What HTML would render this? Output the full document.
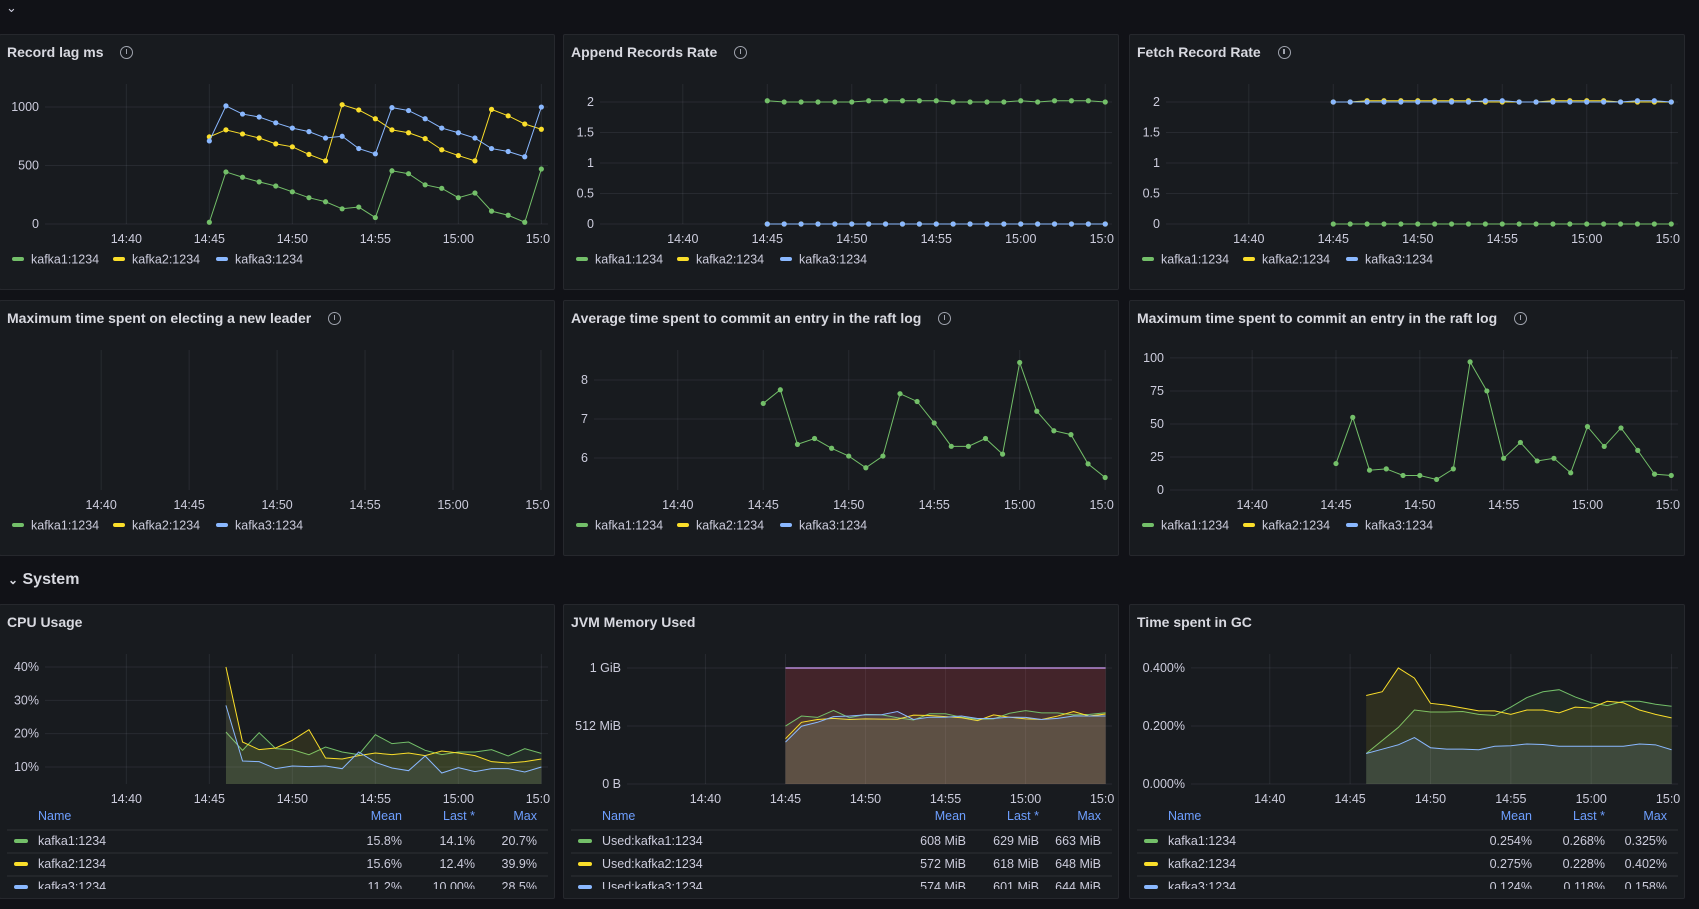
<!DOCTYPE html>
<html><head><meta charset="utf-8">
<style>
*{box-sizing:border-box;margin:0;padding:0}
body{width:1699px;height:909px;background:#111217;overflow:hidden;font-family:"Liberation Sans",sans-serif;color:#ccccdc;position:relative}
.panel{position:absolute;background:#181b1f;border:1px solid #26282d;border-radius:2px;overflow:hidden}
.title{position:absolute;left:7px;top:7px;height:20px;line-height:20px;font-size:14px;font-weight:bold;color:#d8d9e0;display:flex;align-items:center;white-space:nowrap}
.info{display:inline-block;width:13px;height:13px;border:1.3px solid #9fa3ad;border-radius:50%;margin-left:17px;position:relative}
.info::after{content:"";position:absolute;left:4.5px;top:2.5px;width:1.4px;height:5px;background:#9fa3ad}
.panel svg{position:absolute;left:0;top:0}
.rowhdr{position:absolute;left:8px;top:571px;font-size:16px;font-weight:bold;color:#d8d9e0}
</style></head><body>
<div style="position:absolute;left:6px;top:0px;font-size:13px;color:#ccccdc">⌄</div>
<div class="rowhdr"><span style="font-size:12px">⌄</span> System</div>

<div class="panel" id="p1" style="left:-1px;top:34px;width:556px;height:256px"><div class="title">Record lag ms<span class="info"></span></div></div>
<div class="panel" id="p2" style="left:563px;top:34px;width:556px;height:256px"><div class="title">Append Records Rate<span class="info"></span></div></div>
<div class="panel" id="p3" style="left:1129px;top:34px;width:556px;height:256px"><div class="title">Fetch Record Rate<span class="info"></span></div></div>
<div class="panel" id="p4" style="left:-1px;top:300px;width:556px;height:256px"><div class="title">Maximum time spent on electing a new leader<span class="info"></span></div></div>
<div class="panel" id="p5" style="left:563px;top:300px;width:556px;height:256px"><div class="title">Average time spent to commit an entry in the raft log<span class="info"></span></div></div>
<div class="panel" id="p6" style="left:1129px;top:300px;width:556px;height:256px"><div class="title">Maximum time spent to commit an entry in the raft log<span class="info"></span></div></div>
<div class="panel" id="p7" style="left:-1px;top:604px;width:556px;height:295px"><div class="title">CPU Usage</div></div>
<div class="panel" id="p8" style="left:563px;top:604px;width:556px;height:295px"><div class="title">JVM Memory Used</div></div>
<div class="panel" id="p9" style="left:1129px;top:604px;width:556px;height:295px"><div class="title">Time spent in GC</div></div>

<script>
const times21 = ['14:45','14:46','14:47','14:48','14:49','14:50','14:51','14:52','14:53','14:54','14:55','14:56','14:57','14:58','14:59','15:00','15:01','15:02','15:03','15:04','15:05'];
const times20 = ['14:46','14:47','14:48','14:49','14:50','14:51','14:52','14:53','14:54','14:55','14:56','14:57','14:58','14:59','15:00','15:01','15:02','15:03','15:04','15:05'];
const xTickLabels = ['14:40','14:45','14:50','14:55','15:00','15:05'];
const seriesNames = ['kafka1:1234','kafka2:1234','kafka3:1234'];

const lagK1 = [15,445,400,360,325,275,225,190,130,145,55,455,430,335,305,225,265,110,75,15,470];
const lagK2 = [745,805,770,735,685,660,595,540,1020,975,900,805,780,730,635,585,540,980,925,855,810];
const lagK3 = [710,1010,940,915,865,820,790,735,750,645,600,995,970,900,820,780,735,645,620,575,1000];
const lagTicks = [0,500,1000];

const appendK1 = [2.02,2,2,2,2,2,2.02,2.02,2.02,2.02,2.02,2,2,2,2,2.02,2,2.02,2.02,2.02,2];
const appendK2 = [0,0,0,0,0,0,0,0,0,0,0,0,0,0,0,0,0,0,0,0,0];
const appendK3 = [0,0,0,0,0,0,0,0,0,0,0,0,0,0,0,0,0,0,0,0,0];
const rateTicks = [0,0.5,1,1.5,2];

const fetchK1 = [0,0,0,0,0,0,0,0,0,0,0,0,0,0,0,0,0,0,0,0,0];
const fetchK2 = [2,2,2.02,2.02,2.02,2.02,2.02,2.02,2.02,2,2,2,2,2.02,2.02,2.02,2.02,2,2,2,2];
const fetchK3 = [2,2,2,2,2,2,2,2,2,2.02,2.02,2,2,2,2,2,2,2,2.02,2.02,2];

const avgCommitK1 = [7.4,7.75,6.35,6.5,6.25,6.05,5.75,6.05,7.65,7.45,6.9,6.3,6.3,6.5,6.1,8.45,7.2,6.7,6.6,5.85,5.5];
const avgTicks = [6,7,8];
const maxCommitK1 = [20,55,15,16,11,11,8,16,97,75,24,36,22,24,13,48,33,47,30,12,11];
const maxTicks = [0,25,50,75,100];

const cpuK1 = [20.5,15,20.3,15.5,15.2,13.7,16,14.5,13.7,19.7,17,17.5,15,13.7,14.5,14.5,15.2,13.3,15.5,14.1];
const cpuK2 = [40,17.5,15.2,15.7,18,21.2,12.7,12.4,13.4,14.2,13.7,14.2,13.4,14.8,14.2,13.4,11.6,11.2,11.6,12.4];
const cpuK3 = [28.5,11.8,11.6,9.5,10.3,10.1,10.3,9.5,14.5,11.4,9.7,8.9,13.3,8.2,9.8,8.6,9.5,9.5,8.5,10.0];
const cpuTicks = [10,20,30,40];
const cpuTickLabels = ['10%','20%','30%','40%'];
const cpuTable = [['15.8%','14.1%','20.7%'],['15.6%','12.4%','39.9%'],['11.2%','10.00%','28.5%']];

const jvmMax = [1024,1024,1024,1024,1024,1024,1024,1024,1024,1024,1024,1024,1024,1024,1024,1024,1024,1024,1024,1024,1024];
const jvmK1 = [512,600,588,650,585,615,612,585,565,620,620,590,572,575,625,648,628,628,610,615,629];
const jvmK2 = [400,545,570,580,570,575,573,572,608,605,595,585,560,610,590,575,570,600,640,600,618];
const jvmK3 = [370,510,545,595,600,610,612,640,570,590,590,600,578,580,590,588,570,580,600,600,601];
const jvmTicks = [0,512,1024];
const jvmTickLabels = ['0 B','512 MiB','1 GiB'];
const jvmNames = ['Used:kafka1:1234','Used:kafka2:1234','Used:kafka3:1234'];
const jvmTable = [['608 MiB','629 MiB','663 MiB'],['572 MiB','618 MiB','648 MiB'],['574 MiB','601 MiB','644 MiB']];

const gcK1 = [0.105,0.15,0.195,0.255,0.248,0.248,0.25,0.24,0.236,0.265,0.298,0.318,0.325,0.3,0.28,0.27,0.285,0.285,0.275,0.268];
const gcK2 = [0.305,0.318,0.4,0.365,0.278,0.272,0.262,0.252,0.252,0.24,0.255,0.255,0.245,0.265,0.262,0.285,0.28,0.255,0.24,0.228];
const gcK3 = [0.105,0.12,0.135,0.16,0.125,0.12,0.12,0.118,0.13,0.132,0.138,0.136,0.13,0.13,0.13,0.13,0.13,0.138,0.135,0.118];
const gcTicks = [0,0.2,0.4];
const gcTickLabels = ['0.000%','0.200%','0.400%'];
const gcTable = [['0.254%','0.268%','0.325%'],['0.275%','0.228%','0.402%'],['0.124%','0.118%','0.158%']];

const COLORS = ['#73bf69','#fade2a','#8ab8ff'];
const NS = 'http://www.w3.org/2000/svg';
const T0 = 14*60+35.1, T1 = T0 + 30.3;
function toMin(s){const p=s.split(':');return (+p[0])*60+(+p[1]);}
function mk(tag, attrs, parent){const e=document.createElementNS(NS,tag);for(const k in attrs)e.setAttribute(k,attrs[k]);if(parent)parent.appendChild(e);return e;}

function makeChart(id, cfg){
  const panel=document.getElementById(id);
  const W=panel.clientWidth,H=panel.clientHeight;
  const svg=mk('svg',{width:W,height:H});
  panel.appendChild(svg);
  const L=cfg.L,R=548,top=49,bot=cfg.bot;
  const xs=t=>L+(toMin(t)-T0)/(T1-T0)*(R-L);
  const ys=v=>bot-(v-cfg.ymin)/(cfg.ymax-cfg.ymin)*(bot-top);
  const clipId=id+'clip';
  const defs=mk('defs',{},svg);
  const cp=mk('clipPath',{id:clipId},defs);
  mk('rect',{x:0,y:0,width:550,height:H},cp);
  (cfg.yTicks||[]).forEach((v,i)=>{
    const g=mk('line',{x1:L,x2:R,y1:ys(v),y2:ys(v),stroke:'rgba(204,204,220,0.09)','stroke-width':1},svg);
    
    
    const t=mk('text',{x:L-6,y:ys(v)+4,'text-anchor':'end','font-size':12.5,fill:'#ccccdc'},svg);
    t.textContent=cfg.yLabels?cfg.yLabels[i]:String(v);
    
    
  });
  xTickLabels.forEach(lbl=>{
    const x=xs(lbl);
    const g=mk('line',{x1:x,x2:x,y1:top,y2:bot,stroke:'rgba(204,204,220,0.09)','stroke-width':1},svg);
    
    
    const t=mk('text',{x:x,y:bot+19,'text-anchor':'middle','font-size':12.5,fill:'#ccccdc','clip-path':'url(#'+clipId+')'},svg);
    t.textContent=lbl;
    
    
  });
  (cfg.series||[]).forEach(s=>{
    const pts=s.data.map((v,i)=>[xs(s.times[i]),ys(v)]);
    if(s.fill){
      const d='M'+pts[0][0]+','+ys(cfg.ymin)+' '+pts.map(p=>'L'+p[0]+','+p[1]).join(' ')+' L'+pts[pts.length-1][0]+','+ys(cfg.ymin)+'Z';
      const a=mk('path',{d:d,fill:s.fillColor||s.color,'fill-opacity':s.fill,stroke:'none'},svg);
      
      
    }
    const ln=mk('polyline',{points:pts.map(p=>p.join(',')).join(' '),fill:'none',stroke:s.color,'stroke-width':s.width||1},svg);
    
    
    if(s.dots){pts.forEach(p=>{
      const c=mk('circle',{cx:p[0],cy:p[1],r:2.6,fill:s.color},svg);
      
      
    });}
  });
  if(cfg.legend){
    const lx=[12,113,216];
    seriesNames.forEach((n,i)=>{
      const r=mk('rect',{x:lx[i],y:cfg.legendY-2,width:12,height:4,rx:2,fill:COLORS[i]},svg);
      
      
      const t=mk('text',{x:lx[i]+19,y:cfg.legendY+4.5,'font-size':12.5,fill:'#ccccdc'},svg);
      t.textContent=n;
      
      
    });
  }
  if(cfg.table){
    const hy=215;
    const cols=[['Name',38,'start'],['Mean',402,'end'],['Last *',475,'end'],['Max',537,'end']];
    cols.forEach(c=>{
      const t=mk('text',{x:c[1],y:hy,'text-anchor':c[2],'font-size':12.5,fill:'#6e9fff'},svg);
      t.textContent=c[0];
      
      
    });
    const tclip=mk('clipPath',{id:id+'tclip'},defs);
    mk('rect',{x:0,y:0,width:W,height:284},tclip);
    const g=mk('g',{'clip-path':'url(#'+id+'tclip)'},svg);
    const rowY=[240,263,286];
    cfg.names.forEach((n,i)=>{
      mk('line',{x1:7,x2:548,y1:rowY[i]-15,y2:rowY[i]-15,stroke:'rgba(204,204,220,0.12)'},g);
      const r=mk('rect',{x:14,y:rowY[i]-6,width:14,height:4,rx:2,fill:COLORS[i]},g);
      
      
      const t=mk('text',{x:38,y:rowY[i],'font-size':12.5,fill:'#ccccdc'},g);
      t.textContent=n;
      
      
      cfg.tableVals[i].forEach((v,j)=>{
        const tv=mk('text',{x:cols[j+1][1],y:rowY[i],'text-anchor':'end','font-size':12.5,fill:'#ccccdc'},g);
        tv.textContent=v;
        
        
      });
    });
  }
}
function ser(name,times,data,color,o){return Object.assign({name:name,times:times,data:data,color:color},o||{});}

makeChart('p1',{L:45,bot:189,ymin:0,ymax:1197,yTicks:lagTicks,legend:true,legendY:224,series:[
  ser('kafka1',times21,lagK1,COLORS[0],{dots:true}),ser('kafka2',times21,lagK2,COLORS[1],{dots:true}),ser('kafka3',times21,lagK3,COLORS[2],{dots:true})]});
makeChart('p2',{L:36,bot:189,ymin:0,ymax:2.295,yTicks:rateTicks,legend:true,legendY:224,series:[
  ser('kafka1',times21,appendK1,COLORS[0],{dots:true}),ser('kafka2',times21,appendK2,COLORS[1],{dots:true}),ser('kafka3',times21,appendK3,COLORS[2],{dots:true})]});
makeChart('p3',{L:36,bot:189,ymin:0,ymax:2.295,yTicks:rateTicks,legend:true,legendY:224,series:[
  ser('kafka1',times21,fetchK1,COLORS[0],{dots:true}),ser('kafka2',times21,fetchK2,COLORS[1],{dots:true}),ser('kafka3',times21,fetchK3,COLORS[2],{dots:true})]});
makeChart('p4',{L:15,bot:189,ymin:0,ymax:1,yTicks:[],legend:true,legendY:224,series:[]});
makeChart('p5',{L:30,bot:189,ymin:5.18,ymax:8.77,yTicks:avgTicks,legend:true,legendY:224,series:[
  ser('kafka1',times21,avgCommitK1,COLORS[0],{dots:true})]});
makeChart('p6',{L:40,bot:189,ymin:0,ymax:106,yTicks:maxTicks,legend:true,legendY:224,series:[
  ser('kafka1',times21,maxCommitK1,COLORS[0],{dots:true})]});
makeChart('p7',{L:45,bot:179,ymin:4.9,ymax:43.9,yTicks:cpuTicks,yLabels:cpuTickLabels,table:true,names:seriesNames,tableVals:cpuTable,series:[
  ser('kafka1',times20,cpuK1,COLORS[0],{fill:0.12}),ser('kafka2',times20,cpuK2,COLORS[1],{fill:0.1}),ser('kafka3',times20,cpuK3,COLORS[2],{fill:0.08})]});
makeChart('p8',{L:63,bot:179,ymin:0,ymax:1148,yTicks:jvmTicks,yLabels:jvmTickLabels,table:true,names:jvmNames,tableVals:jvmTable,series:[
  ser('jvm-max',times21,jvmMax,'#b589d6',{fill:0.2,fillColor:'#f2495c',width:1.5}),
  ser('kafka1',times21,jvmK1,COLORS[0],{fill:0.1}),ser('kafka2',times21,jvmK2,COLORS[1],{fill:0.1}),ser('kafka3',times21,jvmK3,COLORS[2],{fill:0.1})]});
makeChart('p9',{L:61,bot:179,ymin:0,ymax:0.448,yTicks:gcTicks,yLabels:gcTickLabels,table:true,names:seriesNames,tableVals:gcTable,series:[
  ser('kafka1',times20,gcK1,COLORS[0],{fill:0.1}),ser('kafka2',times20,gcK2,COLORS[1],{fill:0.1}),ser('kafka3',times20,gcK3,COLORS[2],{fill:0.1})]});
</script>
</body></html>
